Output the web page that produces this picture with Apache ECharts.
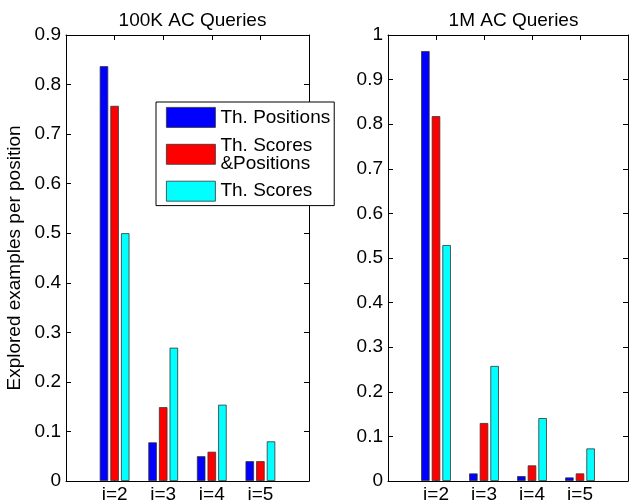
<!DOCTYPE html>
<html><head><meta charset="utf-8">
<script src="https://cdn.jsdelivr.net/npm/echarts@6/dist/echarts.min.js"></script>
<style>html,body{margin:0;padding:0;background:#fff}#c{width:631px;height:504px}</style>
</head><body><div id="c"></div>
<script>
// ---- data ----
const categories = ['i=2', 'i=3', 'i=4', 'i=5'];
const seriesNames = ['Th. Positions', 'Th. Scores\n&Positions', 'Th. Scores'];
const seriesColors = ['#0000ff', '#ff0000', '#00ffff'];
const panelTitles = ['100K AC Queries', '1M AC Queries'];
const yAxisName = 'Explored examples per position';
const yMaxes = [0.9, 1];
const yStep = 0.1;

const q100K_thPositions = [0.837, 0.078, 0.050, 0.040];
const q100K_thScoresPositions = [0.757, 0.149, 0.059, 0.040];
const q100K_thScores = [0.500, 0.269, 0.154, 0.080];

const q1M_thPositions = [0.964, 0.017, 0.011, 0.008];
const q1M_thScoresPositions = [0.818, 0.130, 0.035, 0.017];
const q1M_thScores = [0.529, 0.258, 0.141, 0.073];

const panels = [
  [q100K_thPositions, q100K_thScoresPositions, q100K_thScores],
  [q1M_thPositions, q1M_thScoresPositions, q1M_thScores]
];

// ---- chart ----
const FONT = "'Liberation Sans', Arial, Helvetica, sans-serif";
const FS = 19;
const paddedCats = [''].concat(categories, ['']);
const grids = [
  {left: 66, right: 322, top: 35, bottom: 23},
  {left: 388, right: 2, top: 35, bottom: 23}
];
const lineStyle = {color: '#000', width: 1};

const xAxes = [], yAxes = [], series = [];
grids.forEach((g, gi) => {
  xAxes.push({
    type: 'category', gridIndex: gi, data: paddedCats, boundaryGap: false, position: 'bottom',
    axisLine: {show: true, lineStyle, onZero: false},
    axisTick: {show: true, inside: true, length: 5, lineStyle},
    axisLabel: {color: '#000', fontFamily: FONT, fontSize: FS, margin: 4, interval: 0},
    splitLine: {show: false}
  });
  xAxes.push({
    type: 'category', gridIndex: gi, data: paddedCats, boundaryGap: false, position: 'top',
    axisLine: {show: true, lineStyle, onZero: false},
    axisTick: {show: true, inside: true, length: 5, lineStyle, interval: 0},
    axisLabel: {show: false}, splitLine: {show: false}
  });
  yAxes.push({
    type: 'value', gridIndex: gi, min: 0, max: yMaxes[gi], interval: yStep, position: 'left',
    name: gi === 0 ? yAxisName : '', nameLocation: 'middle', nameGap: 42,
    nameTextStyle: {color: '#000', fontFamily: FONT, fontSize: FS},
    axisLine: {show: true, lineStyle, onZero: false},
    axisTick: {show: true, inside: true, length: 5, lineStyle},
    axisLabel: {color: '#000', fontFamily: FONT, fontSize: FS, margin: 5,
      formatter: v => v === 0 ? '0' : (Math.round(v * 10) / 10).toString()},
    splitLine: {show: false}
  });
  yAxes.push({
    type: 'value', gridIndex: gi, min: 0, max: yMaxes[gi], interval: yStep, position: 'right',
    axisLine: {show: true, lineStyle, onZero: false},
    axisTick: {show: true, inside: true, length: 5, lineStyle},
    axisLabel: {show: false}, splitLine: {show: false}
  });
  panels[gi].forEach((vals, si) => {
    series.push({
      type: 'bar', name: seriesNames[si], xAxisIndex: gi * 2, yAxisIndex: gi * 2,
      data: [null].concat(vals, [null]),
      barWidth: 8.5, barGap: '25%',
      itemStyle: {color: seriesColors[si], borderColor: '#333', borderWidth: 0.8},
      emphasis: {disabled: true}
    });
  });
});

const chart = echarts.init(document.getElementById('c'), null, {renderer: 'canvas'});
chart.setOption({
  animation: false,
  backgroundColor: '#fff',
  color: seriesColors,
  title: panelTitles.map((t, i) => ({
    text: t, left: i === 0 ? 187.5 : 508.5, top: 6, textAlign: 'center',
    textStyle: {color: '#000', fontFamily: FONT, fontSize: FS, fontWeight: 'normal'}
  })),
  legend: {
    data: seriesNames, orient: 'vertical', left: 156, top: 102,
    itemWidth: 49, itemHeight: 20, itemGap: 8, padding: [5, 4, 4, 10],
    borderColor: '#000', borderWidth: 1, backgroundColor: '#fff',
    icon: 'rect', selectedMode: false,
    textStyle: {color: '#000', fontFamily: FONT, fontSize: FS, lineHeight: 18},
    itemStyle: {borderColor: '#333', borderWidth: 0.8}
  },
  grid: grids,
  xAxis: xAxes,
  yAxis: yAxes,
  series
});
</script></body></html>
